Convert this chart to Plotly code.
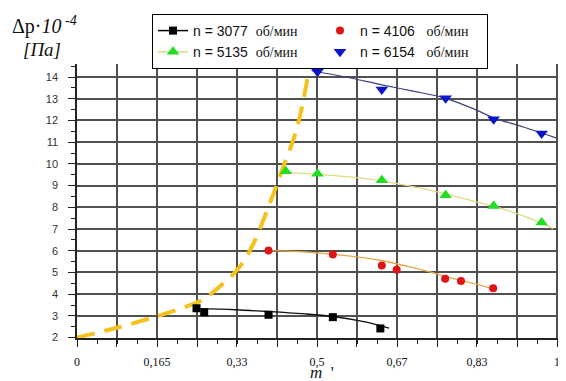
import plotly.graph_objects as go

# ---------------- data ----------------
# measured points, n = 3077 rpm
m_3077 = [0.249, 0.265, 0.399, 0.533, 0.632]
p_3077 = [3.35, 3.17, 3.05, 2.94, 2.42]
# n = 4106 rpm
m_4106 = [0.399, 0.533, 0.635, 0.666, 0.767, 0.800, 0.867]
p_4106 = [6.01, 5.83, 5.32, 5.12, 4.71, 4.61, 4.27]
# n = 5135 rpm
m_5135 = [0.435, 0.501, 0.635, 0.768, 0.868, 0.968]
p_5135 = [9.66, 9.55, 9.25, 8.55, 8.06, 7.30]
# n = 6154 rpm
m_6154 = [0.501, 0.635, 0.768, 0.868, 0.968]
p_6154 = [14.24, 13.43, 13.02, 12.05, 11.40]

# fitted trend lines
tm_3077 = [0.25, 0.33, 0.40, 0.47, 0.533, 0.60, 0.65]
tp_3077 = [3.33, 3.28, 3.20, 3.10, 2.97, 2.72, 2.43]
tm_4106 = [0.40, 0.45, 0.50, 0.55, 0.60, 0.633, 0.70, 0.742, 0.80, 0.84, 0.875]
tp_4106 = [6.00, 5.97, 5.90, 5.80, 5.67, 5.55, 5.22, 4.98, 4.63, 4.42, 4.17]
tm_5135 = [0.43, 0.50, 0.57, 0.635, 0.70, 0.768, 0.84, 0.868, 0.93, 0.992]
tp_5135 = [9.62, 9.52, 9.40, 9.22, 8.95, 8.62, 8.20, 8.05, 7.60, 7.02]
tm_6154 = [0.489, 0.56, 0.635, 0.70, 0.768, 0.83, 0.868, 0.93, 0.998]
tp_6154 = [14.29, 14.00, 13.64, 13.35, 13.02, 12.50, 12.12, 11.70, 11.20]

# boundary (dashed) curve
bm = [0.0, 0.083, 0.165, 0.228, 0.26, 0.294, 0.333, 0.364, 0.402, 0.427, 0.458, 0.484]
bp = [2.0, 2.45, 2.97, 3.43, 3.72, 4.29, 5.10, 6.17, 8.20, 9.70, 11.63, 14.40]

x_tickvals = [0, 0.0833, 0.1667, 0.25, 0.3333, 0.4167, 0.5, 0.5833, 0.6667, 0.75, 0.8333, 0.9167, 1.0]
x_ticktext = ["0", "", "0,165", "", "0,33", "", "0,5", "", "0,67", "", "0,83", "", "1"]
y_tickvals = [2, 3, 4, 5, 6, 7, 8, 9, 10, 11, 12, 13, 14]

names = ["n = 3077  <span style='font-family:Liberation Serif'>об/мин</span>",
         "n = 4106   <span style='font-family:Liberation Serif'>об/мин</span>",
         "n = 5135  <span style='font-family:Liberation Serif'>об/мин</span>",
         "n = 6154   <span style='font-family:Liberation Serif'>об/мин</span>"]


def gapped(v):
    out = []
    for a in v:
        out += [a, None]
    return out


fig = go.Figure()

# boundary dashed curve
fig.add_trace(go.Scatter(x=bm, y=bp, mode="lines", line=dict(color="#f4c21c", width=4, dash="18px,10px", shape="spline"),
                         showlegend=False, hoverinfo="skip"))

# trend lines
fig.add_trace(go.Scatter(x=tm_3077, y=tp_3077, mode="lines", line=dict(color="#111111", width=1.3, shape="spline"), showlegend=False))
fig.add_trace(go.Scatter(x=tm_4106, y=tp_4106, mode="lines", line=dict(color="#e2a84a", width=1.3, shape="spline"), showlegend=False))
fig.add_trace(go.Scatter(x=tm_5135, y=tp_5135, mode="lines", line=dict(color="#dcdc80", width=1.3, shape="spline"), showlegend=False))
fig.add_trace(go.Scatter(x=tm_6154, y=tp_6154, mode="lines", line=dict(color="#40407a", width=1.2, shape="spline"), showlegend=False))

# measured points
fig.add_trace(go.Scatter(x=gapped(m_3077), y=gapped(p_3077), mode="lines+markers", connectgaps=False, name=names[0],
                         line=dict(color="#000000", width=1.5),
                         marker=dict(symbol="square", size=8, color="#000000")))
fig.add_trace(go.Scatter(x=m_4106, y=p_4106, mode="markers", name=names[1],
                         marker=dict(symbol="circle", size=8, color="#e01414")))
fig.add_trace(go.Scatter(x=gapped(m_5135), y=gapped(p_5135), mode="lines+markers", connectgaps=False, name=names[2],
                         line=dict(color="#dcdc80", width=1.5),
                         marker=dict(symbol="triangle-up", size=11, color="#22dd22")))
fig.add_trace(go.Scatter(x=m_6154, y=p_6154, mode="markers", name=names[3],
                         marker=dict(symbol="triangle-down", size=11, color="#0a14c8")))

axis_common = dict(showline=True, linecolor="#222222", linewidth=1.5,
                   showgrid=True, gridcolor="#505050", gridwidth=1.5,
                   ticks="outside", tickcolor="#222222", zeroline=False)

fig.update_xaxes(range=[0, 1.01875], tickmode="array", tickvals=x_tickvals, ticktext=x_ticktext,
                 ticklen=7, tickwidth=1.3, ticklabelstandoff=5,
                 tickfont=dict(family="Liberation Serif", size=12, color="#111111"),
                 minor=dict(ticks="outside", ticklen=4, dtick=1/24, tick0=0, tickcolor="#222222", showgrid=False),
                 **axis_common)
fig.update_yaxes(range=[1.98, 14.6], tickmode="array", tickvals=y_tickvals,
                 ticklen=7, tickwidth=1.3, ticklabelstandoff=8,
                 tickfont=dict(family="Liberation Sans", size=11, color="#333333"),
                 minor=dict(ticks="outside", ticklen=4, dtick=0.5, tick0=0, tickcolor="#222222", showgrid=False),
                 **axis_common)

fig.add_annotation(text="Δp·<i>10</i><sup><i> -4</i></sup>", xref="paper", yref="paper", x=-0.1366, y=1.0,
                   yshift=24, xanchor="left", yanchor="bottom", showarrow=False,
                   font=dict(family="Liberation Serif", size=20, color="#111111"))
fig.add_annotation(text="<i>[Па]</i>", xref="paper", yref="paper", x=-0.1137, y=1.0,
                   xanchor="left", yanchor="bottom", yshift=2, showarrow=False,
                   font=dict(family="Liberation Serif", size=19, color="#111111"))
fig.add_annotation(text="<i>m</i>&nbsp; '", xref="x", yref="paper", x=0.51, y=-0.157,
                   xanchor="center", yanchor="bottom", yshift=-3, showarrow=False,
                   font=dict(family="Liberation Serif", size=17, color="#111111"))

# the page body adds an 8px offset, so the figure is 8px smaller on each side
fig.update_layout(
    width=558, height=373,
    margin=dict(l=69, r=0, t=56, b=43, autoexpand=False),
    paper_bgcolor="white", plot_bgcolor="white",
    showlegend=True,
    legend=dict(orientation="h", x=0.1534, y=1.1825, xanchor="left", yanchor="top",
                entrywidth=122, entrywidthmode="pixels",
                bgcolor="white", bordercolor="#000000", borderwidth=1,
                font=dict(family="Liberation Sans", size=14, color="#111111"),
                itemwidth=30, traceorder="normal"),
    hovermode=False,
)

fig.write_html("out.html")
